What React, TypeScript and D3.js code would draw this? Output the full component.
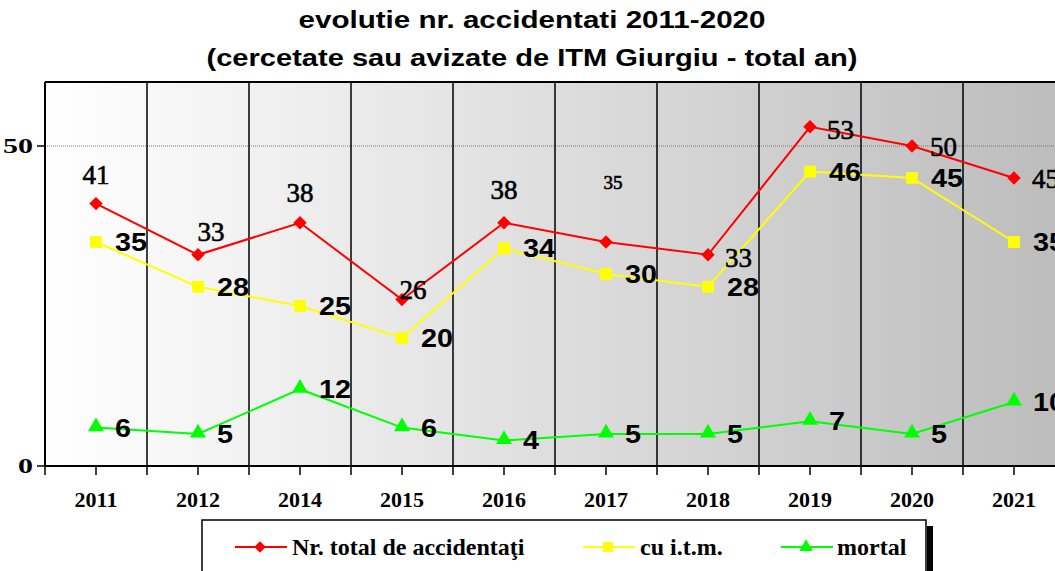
import React from "react"
import * as d3 from "d3"

const years = ["2011", "2012", "2014", "2015", "2016", "2017", "2018", "2019", "2020", "2021"]
const totalAcc = [41, 33, 38, 26, 38, 35, 33, 53, 50, 45]
const cuItm = [35, 28, 25, 20, 34, 30, 28, 46, 45, 35]
const mortal = [6, 5, 12, 6, 4, 5, 5, 7, 5, 10]
const yTicks = [0, 50]
const seriesNames = ["Nr. total de accidentaţi", "cu i.t.m.", "mortal"]

// where the red labels sit relative to their point: dx, dy, font size, anchor
const redLabelPos: [number, number, number, string][] = [
  [0, -29, 27, "middle"], [13, -23, 27, "middle"], [0, -30, 27, "middle"], [11, -10, 27, "middle"],
  [0, -33, 27, "middle"], [7, -59, 19, "middle"], [17, 3, 27, "start"], [17, 3, 27, "start"],
  [18, 1, 27, "start"], [18, 1, 27, "start"],
]

const W = 1055
const H = 571
const left = 45
const right = 1065
const top = 82
const bottom = 466

const serif = "Liberation Serif, Times New Roman, serif"
const sans = "Liberation Sans, Arial, sans-serif"

export default function App() {
  const x = d3.scaleBand().domain(years).range([left, right])
  const y = d3.scaleLinear().domain([0, 60]).range([bottom, top])
  const cx = (d: string) => (x(d) as number) + x.bandwidth() / 2

  const line = d3.line<number>().x((_, i) => cx(years[i])).y((d) => y(d))

  const diamond = d3.symbol().type(d3.symbolSquare).size(90)()
  const square = d3.symbol().type(d3.symbolSquare).size(140)()
  const tri = d3.symbol().type(d3.symbolTriangle).size(110)()

  const bounds = years.slice(1).map((d) => x(d) as number)

  return (
    <svg width={W} height={H} style={{ position: "absolute", left: 0, top: 0, display: "block" }}>
      <defs>
        <linearGradient id="bg" x1={left} x2={right} y1={0} y2={0} gradientUnits="userSpaceOnUse">
          <stop offset="0" stopColor="#ffffff" />
          <stop offset="1" stopColor="#bcbcbc" />
        </linearGradient>
      </defs>
      <rect x={0} y={0} width={W} height={H} fill="#fff" />
      <text x={532} y={28} textAnchor="middle" fontFamily={sans} fontWeight="bold" fontSize={23}
        textLength={467} lengthAdjust="spacingAndGlyphs">
        evolutie nr. accidentati 2011-2020
      </text>
      <text x={532} y={66} textAnchor="middle" fontFamily={sans} fontWeight="bold" fontSize={23}
        textLength={651} lengthAdjust="spacingAndGlyphs">
        (cercetate sau avizate de ITM Giurgiu - total an)
      </text>

      <rect x={left} y={top} width={right - left} height={bottom - top} fill="url(#bg)" />
      <line x1={left} x2={right} y1={y(50)} y2={y(50)} stroke="#777" strokeWidth={1} strokeDasharray="1,1" />
      {bounds.map((b, i) => (
        <line key={i} x1={b} x2={b} y1={top} y2={bottom + 9} stroke="#000" strokeWidth={1.5} />
      ))}
      {years.map((d) => (
        <line key={d} x1={cx(d)} x2={cx(d)} y1={bottom} y2={bottom + 9} stroke="#000" strokeWidth={1.5} />
      ))}
      <line x1={left} x2={left} y1={bottom} y2={bottom + 9} stroke="#000" strokeWidth={1.5} />
      <line x1={left} x2={right} y1={top} y2={top} stroke="#000" strokeWidth={2} />
      <line x1={left} x2={left} y1={top} y2={bottom} stroke="#000" strokeWidth={2} />
      <line x1={left} x2={right} y1={bottom} y2={bottom} stroke="#000" strokeWidth={2} />
      {yTicks.map((t) => (
        <g key={t}>
          <line x1={left - 8} x2={left} y1={y(t)} y2={y(t)} stroke="#000" strokeWidth={1.5} />
          <text x={left - 12} y={y(t)} dy="0.33em" textAnchor="end" fontFamily={serif} fontWeight="bold" fontSize={21}
            textLength={String(t).length * 15} lengthAdjust="spacingAndGlyphs">
            {t}
          </text>
        </g>
      ))}
      {years.map((d) => (
        <text key={d} x={cx(d)} y={507} textAnchor="middle" fontFamily={serif} fontWeight="bold" fontSize={22}>
          {d}
        </text>
      ))}

      <path d={line(totalAcc) as string} fill="none" stroke="#ff0000" strokeWidth={2} />
      <path d={line(cuItm) as string} fill="none" stroke="#ffff00" strokeWidth={2} />
      <path d={line(mortal) as string} fill="none" stroke="#00ff00" strokeWidth={2} />

      {totalAcc.map((v, i) => (
        <path key={i} d={diamond as string} transform={`translate(${cx(years[i])},${y(v)}) rotate(45)`} fill="#ff0000" />
      ))}
      {cuItm.map((v, i) => (
        <path key={i} d={square as string} transform={`translate(${cx(years[i])},${y(v)})`} fill="#ffff00" />
      ))}
      {mortal.map((v, i) => (
        <path key={i} d={tri as string} transform={`translate(${cx(years[i])},${y(v) - 1})`} fill="#00ff00" />
      ))}

      {totalAcc.map((v, i) => {
        const [dx, dy, fs, anchor] = redLabelPos[i]
        return (
          <text key={i} x={cx(years[i]) + dx} y={y(v) + dy} dy="0.34em" textAnchor={anchor}
            fontFamily={serif} fontSize={fs} stroke="#000" strokeWidth={0.6}>
            {v}
          </text>
        )
      })}
      {[cuItm, mortal].map((s, k) =>
        s.map((v, i) => (
          <text key={`${k}-${i}`} x={cx(years[i]) + 19} y={y(v)} dy="0.36em" fontFamily={sans} fontWeight="bold" fontSize={25}
            textLength={String(v).length * 16} lengthAdjust="spacingAndGlyphs">
            {v}
          </text>
        ))
      )}

      <rect x={927} y={526} width={6} height={50} fill="#000" />
      <rect x={202} y={520} width={724} height={60} fill="#fff" stroke="#000" strokeWidth={1.5} />
      {[
        { c: "#ff0000", sym: diamond, rot: 45, x0: 235, tx: 292 },
        { c: "#ffff00", sym: square, rot: 0, x0: 583, tx: 640 },
        { c: "#00ff00", sym: tri, rot: 0, x0: 781, tx: 837 },
      ].map((l, i) => (
        <g key={i}>
          <line x1={l.x0} x2={l.x0 + 52} y1={547} y2={547} stroke={l.c} strokeWidth={2} />
          <path d={l.sym as string} transform={`translate(${l.x0 + 25},547) rotate(${l.rot}) scale(0.85)`} fill={l.c} />
          <text x={l.tx} y={547} dy="0.35em" fontFamily={serif} fontWeight="bold" fontSize={24}>
            {seriesNames[i]}
          </text>
        </g>
      ))}
    </svg>
  )
}
